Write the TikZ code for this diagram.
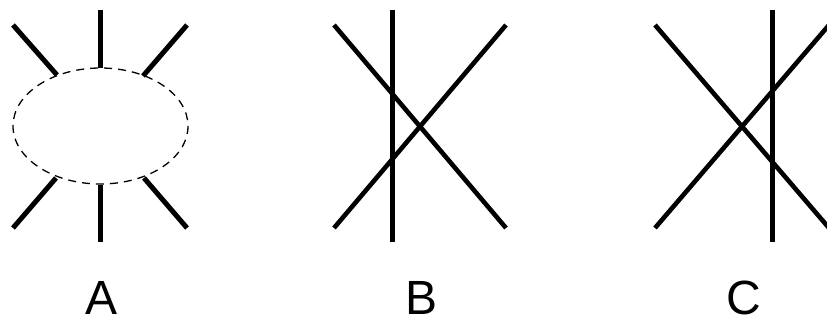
\documentclass[tikz,border=0pt]{standalone}
\usepackage{fontspec}
\setmainfont{Liberation Sans}
\usetikzlibrary{positioning}

\begin{document}
\begin{tikzpicture}[x=1pt, y=-1pt,
    stick/.style={line width=5pt},
    slant/.style={line width=4.6pt},
    ring/.style={line width=1.3pt, dash pattern=on 8pt off 6pt},
    tag/.style={anchor=base, inner sep=0pt, font=\fontsize{48}{58}\selectfont}
  ]
    \useasboundingbox (0,0) rectangle (827,320);

    % panel A
    \draw[ring] (100.5,126) ellipse [x radius=87.5, y radius=58];
    \draw[stick] (100,10) -- (100,68);
    \draw[stick] (100,185) -- (100,242);
    \draw[stick] (13,25) -- (57,75);
    \draw[stick] (187,25) -- (143,76);
    \draw[stick] (13,228) -- (56,178);
    \draw[stick] (187,228) -- (144,178);

    % panel B
    \draw[stick] (392,10) -- (392,242);
    \draw[slant] (334,25) -- (506,228);
    \draw[slant] (506,25) -- (334,228);

    % panel C
    \draw[stick] (772,10) -- (772,242);
    \draw[slant] (655,25) -- (829,228);
    \draw[slant] (829,25) -- (655,228);

    \node[tag] (labA) at (102,315) {A};
    \node[tag] (labB) at (422,315) {B};
    \node[tag] (labC) at (744,315) {C};
  \end{tikzpicture}
\end{document}
